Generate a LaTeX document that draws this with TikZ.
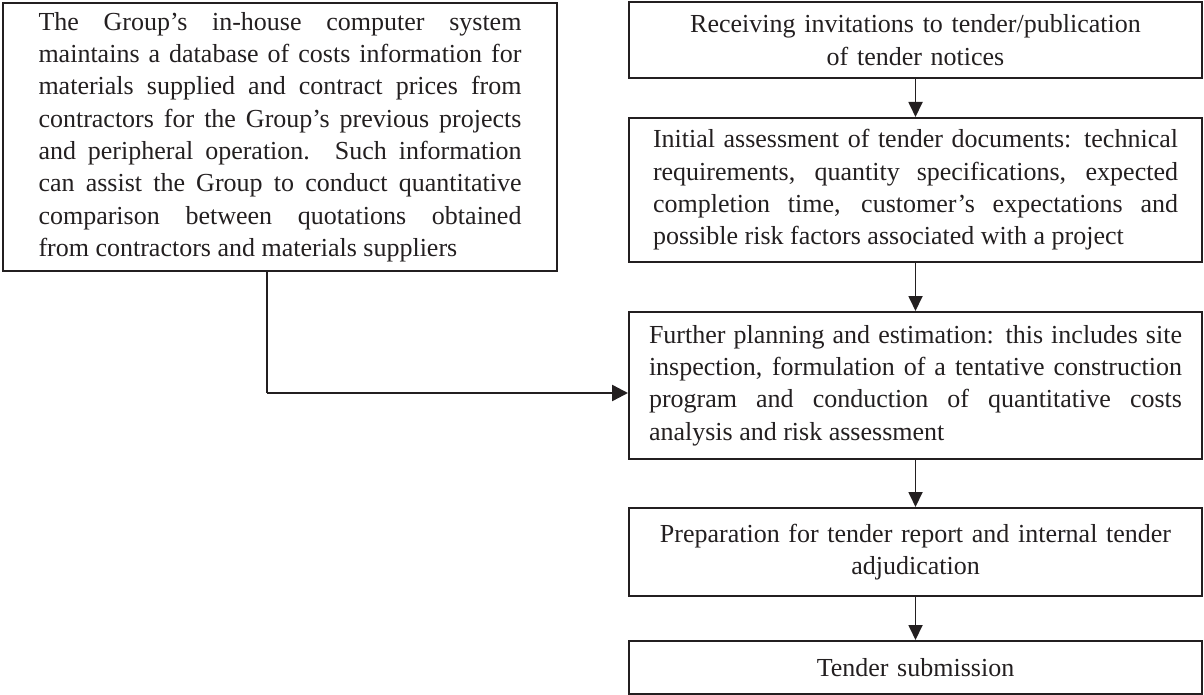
\documentclass[tikz,border=0pt]{standalone}
\usepackage{fontspec}
\setmainfont{Liberation Serif}
\usetikzlibrary{arrows.meta}
\definecolor{ink}{RGB}{35,31,32}
\hyphenpenalty=10000
\exhyphenpenalty=10000
\begin{document}
\begin{tikzpicture}[x=1pt,y=-1pt,
  box/.style={draw=ink, line width=2pt, inner sep=0pt, text=ink,
    font=\fontsize{26}{32.3}\selectfont},
  flow/.style={draw=ink, line width=1.8pt, -{Triangle[length=15pt,width=14pt]}}]
\useasboundingbox (0,0) rectangle (1204,695);
\node[box, minimum width=554pt, minimum height=268pt, text width=483pt, align=justify] (L) at (280,137)
 {The Group’s in-house computer system\linebreak maintains a database of costs information for\linebreak materials supplied and contract prices from\linebreak contractors for the Group’s previous projects\linebreak and peripheral operation. Such information\linebreak can assist the Group to conduct quantitative\linebreak comparison between quotations obtained\linebreak from contractors and materials suppliers};
\node[box, minimum width=573pt, minimum height=76pt, text width=560pt, align=center] (B1) at (915.5,40)
 {Receiving invitations to tender/publication\\ of tender notices};
\node[box, minimum width=573pt, minimum height=144pt, text width=525pt, align=justify] (B2) at (915.5,190)
 {Initial assessment of tender documents: technical\linebreak requirements, quantity specifications, expected\linebreak completion time, customer’s expectations and\linebreak possible risk factors associated with a project};
\node[box, minimum width=573pt, minimum height=147pt, text width=533pt, align=justify] (B3) at (915.5,385.5)
 {Further planning and estimation: this includes site\linebreak inspection, formulation of a tentative construction\linebreak program and conduction of quantitative costs\linebreak analysis and risk assessment};
\node[box, minimum width=573pt, minimum height=88pt, text width=560pt, align=center] (B4) at (915.5,552)
 {Preparation for tender report and internal tender\\ adjudication};
\node[box, minimum width=573pt, minimum height=53pt, text width=560pt, align=center] (B5) at (915.5,667.5)
 {Tender submission};
\draw[flow] (B1) -- (B2);
\draw[flow] (B2) -- (B3);
\draw[flow] (B3) -- (B4);
\draw[flow] (B4) -- (B5);
\coordinate (J) at (267,393);
\draw[draw=ink, line width=1.6pt] (L.south -| J) -- (J);
\draw[flow, line width=2.4pt, -{Triangle[length=16pt,width=16pt]}] (J) -- (J -| B3.west);
\end{tikzpicture}
\end{document}
